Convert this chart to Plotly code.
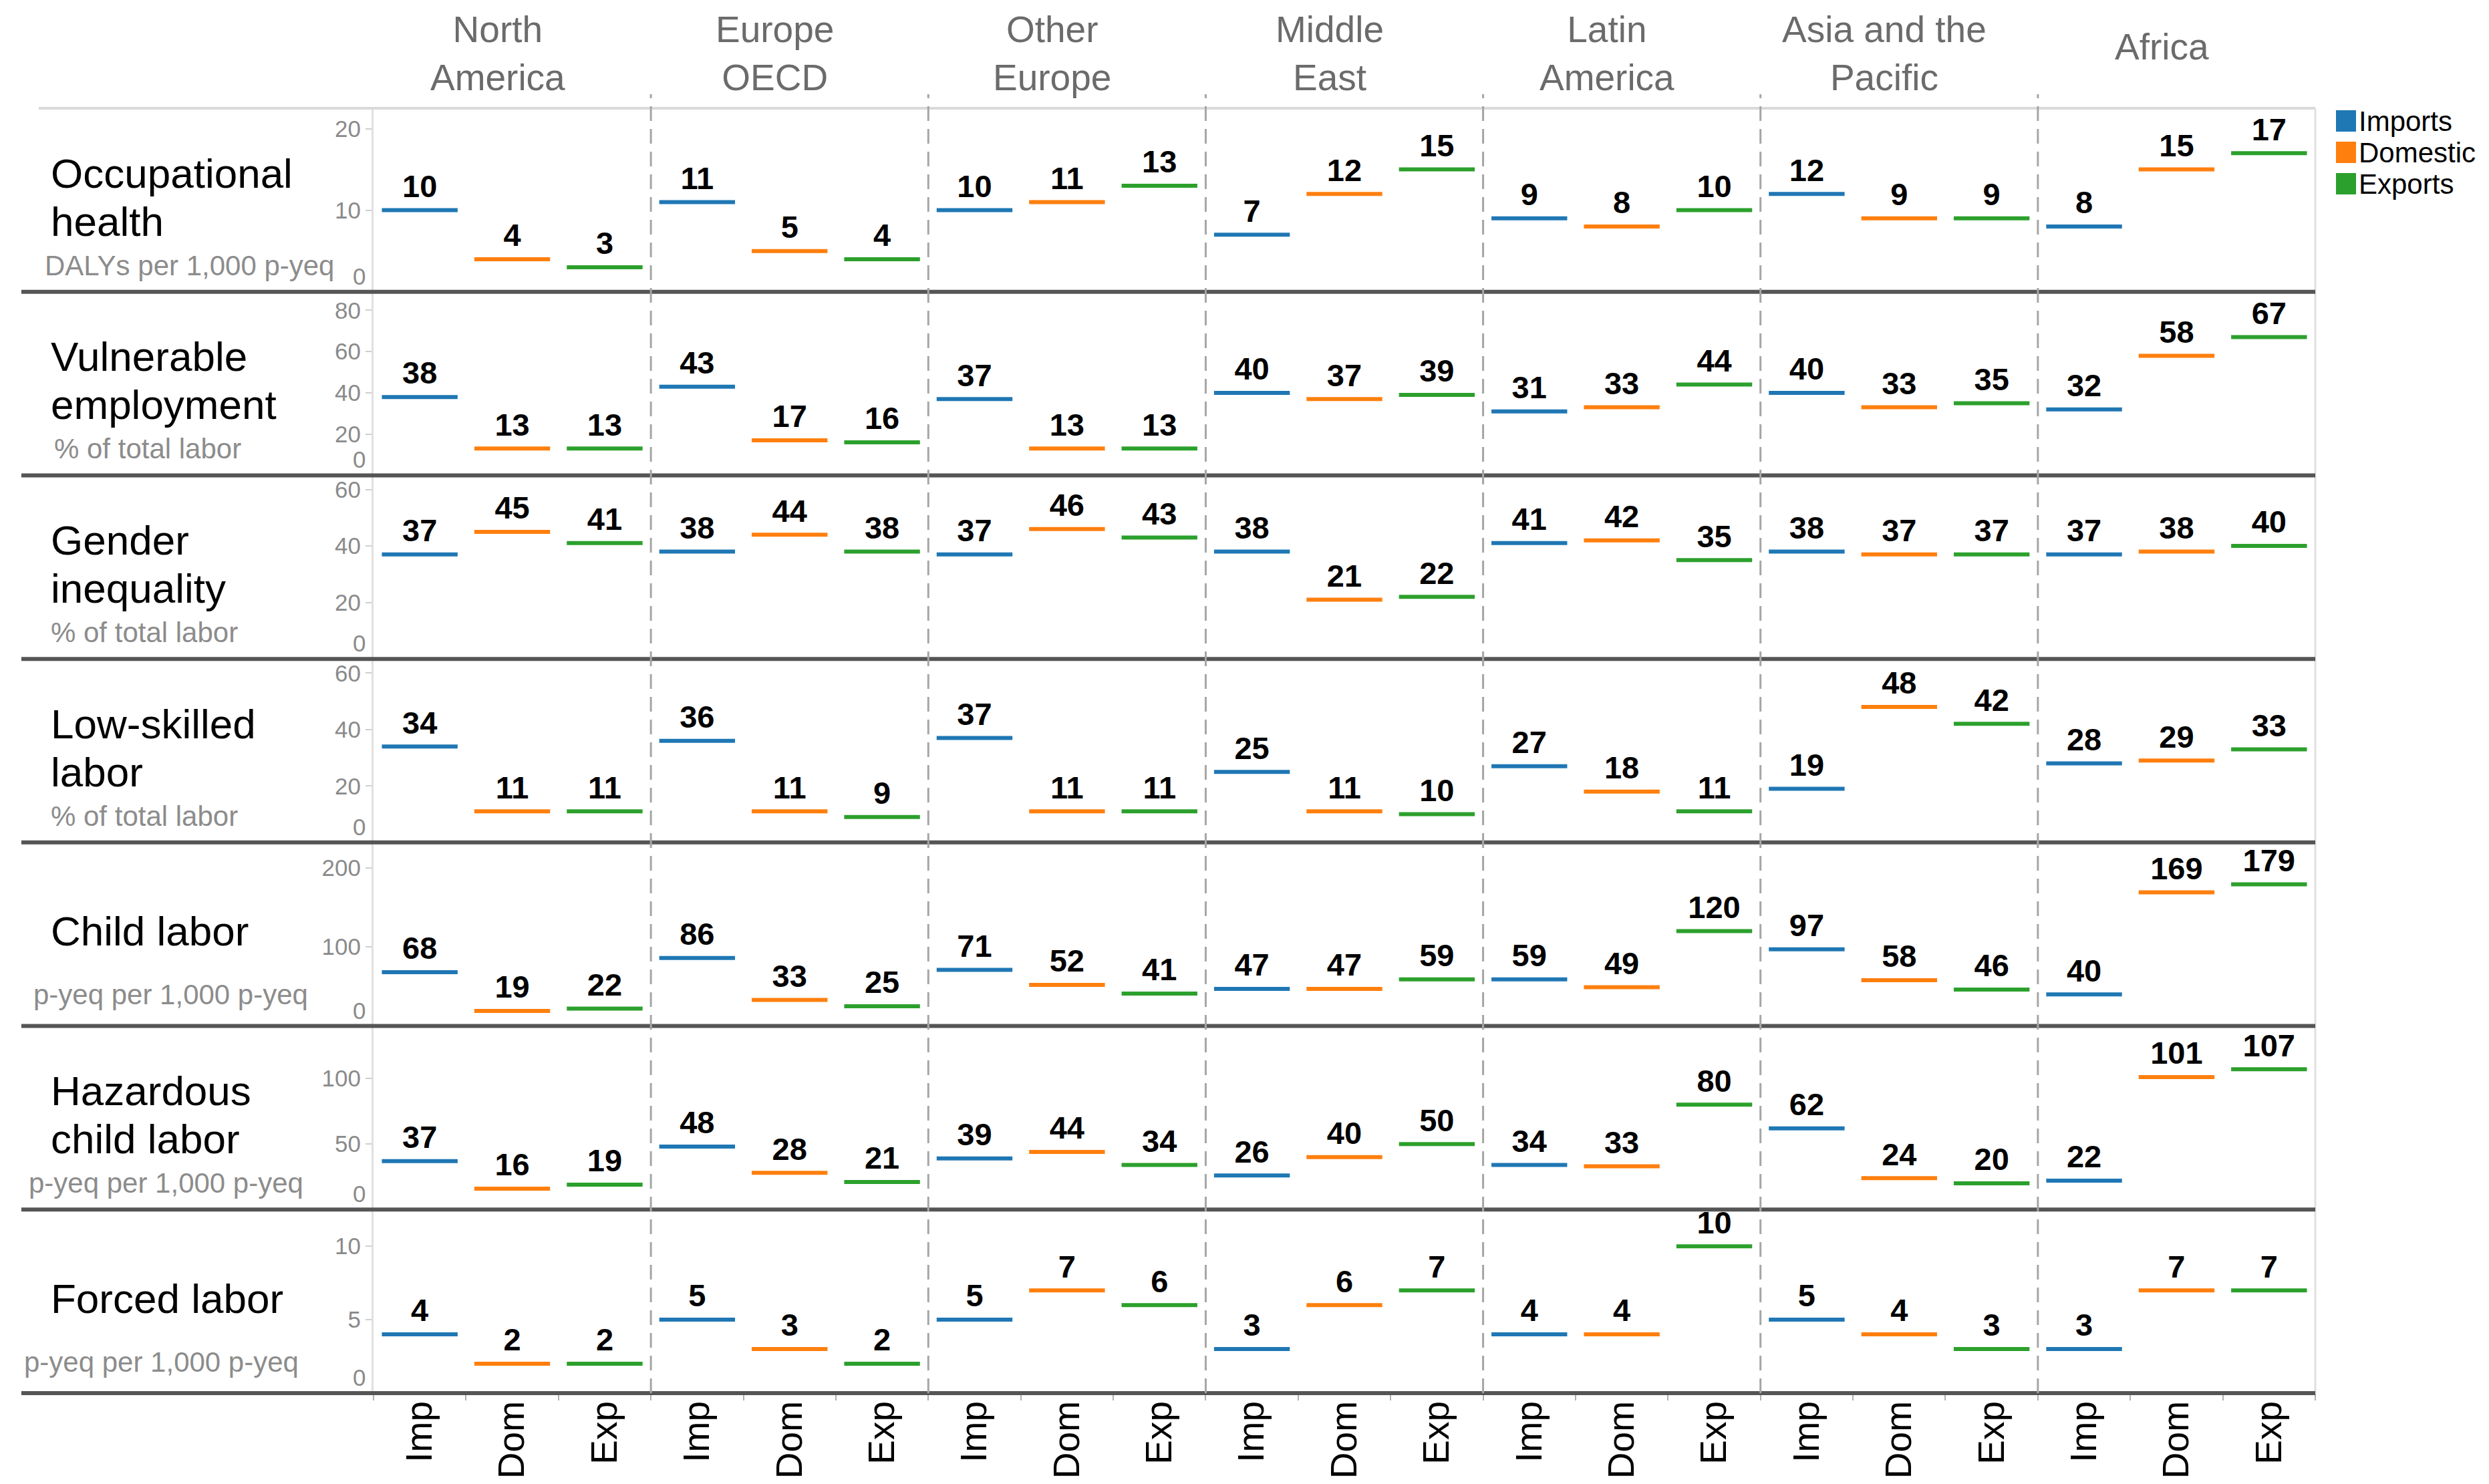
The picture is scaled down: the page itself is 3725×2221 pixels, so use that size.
import plotly.graph_objects as go
from plotly.subplots import make_subplots

# ---------------- data ----------------
regions = ["North<br>America", "Europe<br>OECD", "Other<br>Europe", "Middle<br>East",
           "Latin<br>America", "Asia and the<br>Pacific", "Africa"]
categories = ["Imp", "Dom", "Exp"]
series_names = ["Imports", "Domestic", "Exports"]

metric_titles = [["Occupational", "health"], ["Vulnerable", "employment"], ["Gender", "inequality"],
                 ["Low-skilled", "labor"], ["Child labor"], ["Hazardous", "child labor"], ["Forced labor"]]
metric_units = ["DALYs per 1,000 p-yeq", "% of total labor", "% of total labor", "% of total labor",
                "p-yeq per 1,000 p-yeq", "p-yeq per 1,000 p-yeq", "p-yeq per 1,000 p-yeq"]

# values per region: NA, Europe OECD, Other Europe, Middle East, Latin America, Asia-Pacific, Africa
occ_imp = [10, 11, 10, 7, 9, 12, 8]
occ_dom = [4, 5, 11, 12, 8, 9, 15]
occ_exp = [3, 4, 13, 15, 10, 9, 17]

vul_imp = [38, 43, 37, 40, 31, 40, 32]
vul_dom = [13, 17, 13, 37, 33, 33, 58]
vul_exp = [13, 16, 13, 39, 44, 35, 67]

gen_imp = [37, 38, 37, 38, 41, 38, 37]
gen_dom = [45, 44, 46, 21, 42, 37, 38]
gen_exp = [41, 38, 43, 22, 35, 37, 40]

low_imp = [34, 36, 37, 25, 27, 19, 28]
low_dom = [11, 11, 11, 11, 18, 48, 29]
low_exp = [11, 9, 11, 10, 11, 42, 33]

chi_imp = [68, 86, 71, 47, 59, 97, 40]
chi_dom = [19, 33, 52, 47, 49, 58, 169]
chi_exp = [22, 25, 41, 59, 120, 46, 179]

haz_imp = [37, 48, 39, 26, 34, 62, 22]
haz_dom = [16, 28, 44, 40, 33, 24, 101]
haz_exp = [19, 21, 34, 50, 80, 20, 107]

for_imp = [4, 5, 5, 3, 4, 5, 3]
for_dom = [2, 3, 7, 6, 4, 4, 7]
for_exp = [2, 2, 6, 7, 10, 3, 7]

y_ranges = [[0, 22.5], [0, 89], [0, 65], [0, 65], [0, 232], [0, 140], [0, 12.5]]
y_ticks = [[10, 20], [20, 40, 60, 80], [20, 40, 60], [20, 40, 60], [100, 200], [50, 100], [5, 10]]

data = [[occ_imp, occ_dom, occ_exp], [vul_imp, vul_dom, vul_exp], [gen_imp, gen_dom, gen_exp],
        [low_imp, low_dom, low_exp], [chi_imp, chi_dom, chi_exp], [haz_imp, haz_dom, haz_exp],
        [for_imp, for_dom, for_exp]]

# ---------------- style ----------------
colors = ["#1f77b4", "#ff7f0e", "#2ca02c"]
FONT = "Liberation Sans, Arial, Helvetica, sans-serif"
W, H = 3725, 2221
ML, MR, MT, MB = 551, 268, 154, 144
PW = W - ML - MR
PH = H - MT - MB
NR = len(data)
RH = PH / NR


def px_x(px):
    return (px - ML) / PW


def px_y(py):
    return (H - MB - py) / PH


fig = make_subplots(rows=NR, cols=1, shared_xaxes=True, vertical_spacing=0)

n_reg = len(regions)
for r, rows in enumerate(data):
    for k, vals in enumerate(rows):
        xs = [3 * i + k for i in range(n_reg)]
        fig.add_trace(go.Scatter(
            x=xs, y=vals, mode="markers",
            marker=dict(symbol="line-ew", size=81, color=colors[k],
                        line=dict(color=colors[k], width=6)),
            showlegend=False, hoverinfo="skip", cliponaxis=False), row=r + 1, col=1)
        fig.add_trace(go.Scatter(
            x=xs, y=vals, mode="markers+text", text=[str(v) for v in vals],
            textposition="top center",
            textfont=dict(family=FONT, size=47, color="black", weight="bold"),
            marker=dict(size=11, opacity=0, color=colors[k]),
            showlegend=False, hoverinfo="skip", cliponaxis=False), row=r + 1, col=1)

ticktext = categories * n_reg
for r in range(NR):
    fig.update_yaxes(range=y_ranges[r], tickvals=y_ticks[r], ticks="outside", ticklen=9,
                     tickwidth=2, tickcolor="#cfcfcf",
                     tickfont=dict(family=FONT, size=35, color="#8a8a8a"),
                     showline=True, linecolor="#e0e0e0", linewidth=3,
                     showgrid=False, zeroline=False, row=r + 1, col=1)
    fig.update_xaxes(range=[-0.5, 3 * n_reg - 0.5], tickvals=list(range(3 * n_reg)), ticktext=ticktext,
                     showgrid=False, zeroline=False, showline=False, ticks="",
                     showticklabels=(r == NR - 1), tickangle=-90,
                     tickfont=dict(family=FONT, size=55, color="black"), row=r + 1, col=1)
fig.update_xaxes(minor=dict(tickvals=[i + 0.5 for i in range(-1, 3 * n_reg)], ticks="outside",
                            ticklen=10, tickwidth=2, tickcolor="#b0b0b0"), row=NR, col=1)

shapes = []
annotations = []
# top border
shapes.append(dict(type="line", xref="paper", yref="paper", x0=px_x(50), x1=1, y0=1, y1=1,
                   line=dict(color="#d9d9d9", width=4)))
# right border
shapes.append(dict(type="line", xref="paper", yref="paper", x0=1, x1=1, y0=0, y1=1,
                   line=dict(color="#e0e0e0", width=3)))
# row separators
for r in range(1, NR + 1):
    shapes.append(dict(type="line", xref="paper", yref="paper", x0=px_x(24), x1=1,
                       y0=1 - r / NR, y1=1 - r / NR, line=dict(color="#555555", width=6)))
# region separators
for i in range(1, n_reg):
    shapes.append(dict(type="line", xref="x", yref="paper", x0=3 * i - 0.5, x1=3 * i - 0.5,
                       y0=0, y1=px_y(133), line=dict(color="#a6a6a6", width=3, dash="22px,12px")))

# region headers
for i, name in enumerate(regions):
    two = "<br>" in name
    annotations.append(dict(text=name, xref="x", yref="paper", x=3 * i + 1, xshift=-22,
                            y=px_y(72 if two else 62), yanchor="middle", xanchor="center",
                            showarrow=False, align="center",
                            font=dict(family=FONT, size=55, color="#6b6b6b")))

# row titles
title_left = [66, 66, 66, 66, 66, 66, 66]
unit_left = [57, 71, 66, 66, 40, 33, 26]
for r in range(NR):
    yref = "y domain" if r == 0 else f"y{r + 1} domain"
    lines = metric_titles[r]
    offs = [97, 169] if len(lines) == 2 else [133]
    for ln, off in zip(lines, offs):
        annotations.append(dict(text=ln, xref="paper", yref=yref, x=px_x(title_left[r]),
                                y=1 - off / RH, xanchor="left", yanchor="middle", showarrow=False,
                                font=dict(family=FONT, size=62, color="black")))
    uoff = 235 if len(lines) == 2 else 228
    annotations.append(dict(text=metric_units[r], xref="paper", yref=yref, x=px_x(unit_left[r]),
                            y=1 - uoff / RH, xanchor="left", yanchor="middle", showarrow=False,
                            font=dict(family=FONT, size=42, color="#8c8c8c")))
    # zero label kept inside the row
    annotations.append(dict(text="0", xref="paper", yref=("y" if r == 0 else f"y{r + 1}"),
                            x=0, xshift=-10, y=0, yanchor="bottom", yshift=2, xanchor="right",
                            showarrow=False, font=dict(family=FONT, size=35, color="#8a8a8a")))

# legend (manual)
for k, nm in enumerate(series_names):
    top = 157 + 47 * k
    shapes.append(dict(type="rect", xref="paper", yref="paper", x0=px_x(3488), x1=px_x(3518),
                       y0=px_y(top + 32), y1=px_y(top), fillcolor=colors[k], line=dict(width=0)))
    annotations.append(dict(text=nm, xref="paper", yref="paper", x=px_x(3520), y=px_y(top + 16),
                            xanchor="left", yanchor="middle", showarrow=False,
                            font=dict(family=FONT, size=42, color="black")))

fig.update_layout(width=W, height=H, margin=dict(l=ML, r=MR, t=MT, b=MB),
                  plot_bgcolor="white", paper_bgcolor="white", showlegend=False,
                  shapes=shapes, annotations=annotations,
                  font=dict(family=FONT))

fig.write_html("out.html")
